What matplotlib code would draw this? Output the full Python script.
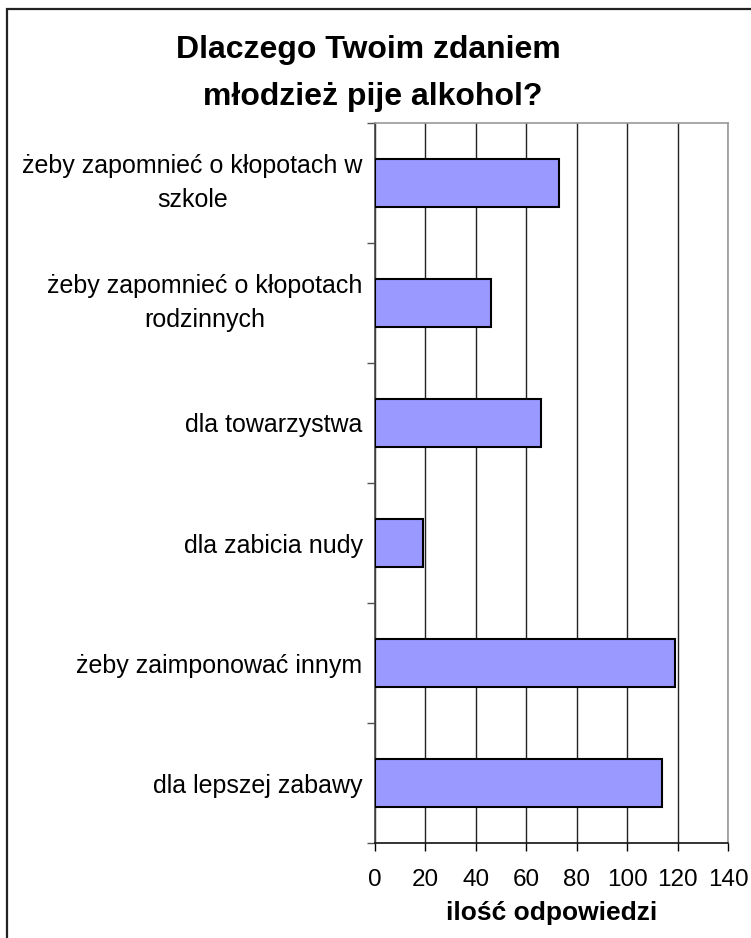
import matplotlib.pyplot as plt
from matplotlib.patches import Rectangle

categories = [
    "żeby zapomnieć o kłopotach w\nszkole",
    "żeby zapomnieć o kłopotach\nrodzinnych",
    "dla towarzystwa",
    "dla zabicia nudy",
    "żeby zaimponować innym",
    "dla lepszej zabawy",
]
values = [73, 46, 66, 19, 119, 114]
xticks = [0, 20, 40, 60, 80, 100, 120, 140]

plt.rcParams['font.family'] = ['Liberation Sans', 'DejaVu Sans']

W, H = 751, 938
fig = plt.figure(figsize=(W / 100, H / 100), dpi=100)
ax = fig.add_axes([375 / W, 1 - 843 / H, (728 - 375) / W, (843 - 123) / H])

pos = list(range(len(categories)))
ax.barh(pos, values, height=0.4, color='#9999ff', edgecolor='black',
        linewidth=1.5, zorder=3)

ax.set_xlim(0, 140)
ax.set_ylim(len(categories) - 0.5, -0.5)
ax.set_xticks(xticks)
ax.set_xticklabels([str(t) for t in xticks], fontsize=17.5)
ax.tick_params(axis='x', length=6, width=1, pad=13, direction='out')

# y ticks sit between categories, labels sit at bar centres
ax.set_yticks([i - 0.5 for i in range(len(categories) + 1)])
ax.set_yticklabels([])
ax.tick_params(axis='y', which='major', length=6, width=1, color='#555555')
ax.set_yticks(pos, minor=True)
labels = ax.set_yticklabels(categories, minor=True, fontsize=18,
                            multialignment='center', linespacing=1.5)
for lab in labels:
    if '\n' in lab.get_text():
        lab.set_va('center')
ax.tick_params(axis='y', which='minor', length=0, pad=9)

ax.xaxis.grid(True, color='#222222', linewidth=1, zorder=0)
ax.set_axisbelow(True)

ax.spines['top'].set_color('#999999')
ax.spines['right'].set_color('#999999')
ax.spines['left'].set_color('#444444')
ax.spines['bottom'].set_color('#111111')
for s in ax.spines.values():
    s.set_linewidth(1.2)

ax.set_xlabel('ilość odpowiedzi', fontsize=19, fontweight='bold', labelpad=7)

fig.text(368 / W, 1 - 50 / H, 'Dlaczego Twoim zdaniem', ha='center',
         va='center', fontsize=23, fontweight='bold')
fig.text(373 / W, 1 - 97 / H, 'młodzież pije alkohol?', ha='center',
         va='center', fontsize=23, fontweight='bold')

# chart frame, cut off at the right and bottom edges
fig.patches.append(Rectangle((7 / W, -0.1), 1.2, 1 - 9 / H + 0.1,
                             transform=fig.transFigure, fill=False,
                             edgecolor='#222222', linewidth=1.6))

fig.savefig('out.png', dpi=100)
